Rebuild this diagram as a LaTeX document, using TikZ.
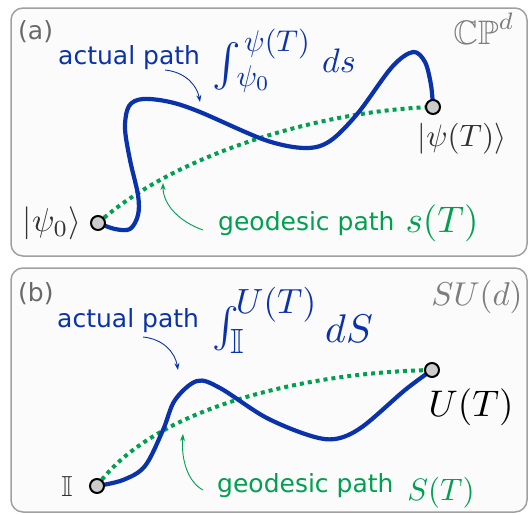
\documentclass[tikz,border=0pt]{standalone}
\usepackage{fontspec}
\usepackage{amssymb}
\newfontfamily\dvsans{DejaVu Sans}
\usetikzlibrary{arrows.meta}
\definecolor{pblue}{RGB}{10,50,170}
\definecolor{pgreen}{RGB}{0,160,80}
\definecolor{lblgray}{RGB}{105,105,105}
\definecolor{spacegray}{RGB}{125,125,125}
\definecolor{ptgray}{RGB}{50,50,50}
\definecolor{boxgray}{RGB}{160,160,160}
\definecolor{boxfill}{RGB}{251,251,251}
\newcommand{\msc}[2]{\scalebox{#1}{$#2$}}
\begin{document}
\begin{tikzpicture}[x=1pt,y=-1pt,
  panel/.style={draw=boxgray, fill=boxfill, line width=1.5pt, rounded corners=12pt},
  sanslbl/.style={font=\dvsans\fontsize{25}{30}\selectfont, inner sep=0pt, anchor=base west},
  mlbl/.style={inner sep=0pt},
  actual/.style={draw=pblue, line width=4.2pt, line cap=round, line join=round},
  geodesic/.style={draw=pgreen, line width=4pt, dash pattern=on 4pt off 4pt},
  endpt/.style={circle, draw=black, fill=black!20, line width=2pt, minimum size=14pt, inner sep=0pt},
  pointer/.style={line width=0.9pt, -{Stealth[length=7pt,width=5pt]}},
]
\useasboundingbox (0,0) rectangle (530,514);
% panels
\path[panel] (11,8) rectangle (527,256);
\path[panel] (11,268) rectangle (527,512);

% ---------- panel (a) ----------
\node[sanslbl, text=lblgray] (labA) at (18,39) {(a)};
\node[mlbl, text=spacegray] (cpd) at (484,29) {\msc{3.4}{\mathbb{CP}^d}};
\node[sanslbl, text=pblue] (actA) at (58,64) {actual path};
\node[mlbl, text=pblue] (intA) at (227,66) {\msc{4.3}{\int}};
\node[mlbl, text=pblue] (supA) at (277,44) {\msc{3.0}{\psi(T)}};
\node[mlbl, text=pblue] (subA) at (253,79) {\msc{3.0}{\psi_0}};
\node[mlbl, text=pblue, anchor=base west] (dsA) at (322,72) {\msc{3.4}{ds}};
\node[sanslbl, text=pgreen] (geoA) at (218,230) {geodesic path};
\node[mlbl, text=pgreen] (sTA) at (442,223) {\msc{3.7}{s(T)}};
\node[mlbl, text=ptgray] (psi0lbl) at (52,223) {\msc{3.3}{|\psi_0\rangle}};
\node[mlbl, text=ptgray] (psiTlbl) at (462,139) {\msc{3.1}{|\psi(T)\rangle}};

\coordinate (pA0) at (98,223);
\coordinate (pAT) at (433,107);
\draw[geodesic] (pA0) .. controls (180,150) and (330,110) .. (pAT);
\draw[actual] plot[smooth, tension=0.55] coordinates {(pA0) (115,229) (130,229) (138,215) (138,195) (130,160) (125,128) (129,106) (143,99) (170,102) (200,112) (265,140) (305,148) (330,141) (358,113) (392,67) (413,52) (425,62) (431,85) (pAT)};
\node[endpt] (ptA0) at (pA0) {};
\node[endpt] (ptAT) at (pAT) {};

\coordinate (aptrS) at (165,70);
\coordinate (aptrE) at (200,102);
\draw[pointer, pblue] (aptrS) .. controls (185,72) and (197,85) .. (aptrE);
\coordinate (gptrS) at (203,230);
\coordinate (gptrE) at (163,183);
\draw[pointer, pgreen] (gptrS) .. controls (180,222) and (163,205) .. (gptrE);

% ---------- panel (b) ----------
\node[sanslbl, text=lblgray] (labB) at (18,301) {(b)};
\node[mlbl, text=spacegray] (sud) at (477,297) {\msc{3.3}{SU(d)}};
\node[sanslbl, text=pblue] (actB) at (57,327) {actual path};
\node[mlbl, text=pblue] (intB) at (226,329) {\msc{4.0}{\int}};
\node[mlbl, text=pblue] (supB) at (276,305) {\msc{3.5}{U(T)}};
\node[mlbl, text=pblue] (subB) at (237,341) {\msc{3.5}{\mathbb{I}}};
\node[mlbl, text=pblue, anchor=base west] (dSB) at (325,342) {\msc{4.0}{dS}};
\node[sanslbl, text=pgreen] (geoB) at (217,492) {geodesic path};
\node[mlbl, text=pgreen] (STB) at (441,493) {\msc{3.1}{S(T)}};
\node[mlbl, text=ptgray] (idlbl) at (67,487) {\msc{2.9}{\mathbb{I}}};
\node[mlbl, text=black] (UTlbl) at (471,407) {\msc{3.7}{U(T)}};

\coordinate (pB0) at (97,486);
\coordinate (pBT) at (432,370);
\draw[geodesic] (pB0) .. controls (158,402) and (320,372) .. (pBT);
\draw[actual] plot[smooth, tension=0.55] coordinates {(pB0) (123,480) (145,466) (163,430) (175,400) (197,381) (220,388) (265,417) (308,435) (335,439) (362,427) (405,390) (pBT)};
\node[endpt] (ptB0) at (pB0) {};
\node[endpt] (ptBT) at (pBT) {};

\coordinate (bptrS) at (143,337);
\coordinate (bptrE) at (178,370);
\draw[pointer, pblue] (bptrS) .. controls (163,339) and (175,352) .. (bptrE);
\coordinate (hptrS) at (203,490);
\coordinate (hptrE) at (183,434);
\draw[pointer, pgreen] (hptrS) .. controls (188,482) and (181,460) .. (hptrE);
\end{tikzpicture}
\end{document}
